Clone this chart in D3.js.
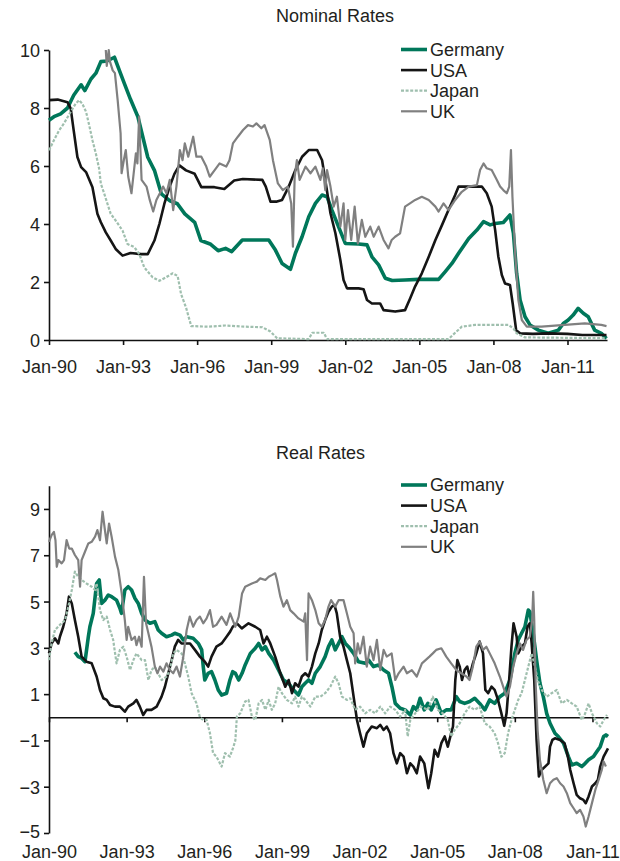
<!DOCTYPE html>
<html>
<head>
<meta charset="utf-8">
<script src="https://d3js.org/d3.v7.min.js"></script>
<style>
  body { margin: 0; background: #fff; }
  svg { display: block; font-family: "Liberation Sans", Arial, Helvetica, sans-serif; }
  .axis path, .axis line { stroke: #111; stroke-width: 1.6; }
  .axis text { fill: #231f20; font-size: 18px; }
  .title { fill: #231f20; font-size: 18px; }
  .legend text { fill: #231f20; font-size: 18px; }
</style>
</head>
<body>
<svg id="chart" width="620" height="861"></svg>
<script>
// x ticks shared by both panels
const tickYears = [1990, 1993, 1996, 1999, 2002, 2005, 2008, 2011];
const tickLabels = ["Jan-90", "Jan-93", "Jan-96", "Jan-99", "Jan-02", "Jan-05", "Jan-08", "Jan-11"];
const countries = ["Germany", "USA", "Japan", "UK"];

// Nominal rates, [year, %]
const nomGermany = [[1990.0,7.58],[1990.2,7.7],[1990.47,7.8],[1990.75,8.0],[1991.0,8.44],[1991.3,8.8],[1991.45,8.6],[1991.7,9.0],[1991.9,9.2],[1992.1,9.6],[1992.35,9.62],[1992.65,9.75],[1992.85,9.3],[1993.05,8.85],[1993.3,8.3],[1993.6,7.7],[1993.8,7.0],[1994.0,6.3],[1994.27,5.85],[1994.55,5.04],[1994.9,4.8],[1995.2,4.7],[1995.5,4.35],[1995.9,4.06],[1996.15,3.43],[1996.55,3.3],[1996.85,3.08],[1997.15,3.16],[1997.4,3.05],[1997.83,3.45],[1998.3,3.45],[1998.9,3.45],[1999.17,3.1],[1999.44,2.64],[1999.78,2.44],[1999.98,2.99],[2000.25,3.56],[2000.52,4.25],[2000.79,4.71],[2001.06,5.0],[2001.26,4.94],[2001.46,4.48],[2001.73,3.9],[2002.0,3.33],[2002.54,3.31],[2002.88,3.28],[2003.08,2.87],[2003.35,2.59],[2003.62,2.13],[2003.9,2.05],[2004.42,2.07],[2004.96,2.09],[2005.78,2.09],[2006.05,2.36],[2006.32,2.64],[2006.59,2.99],[2007.0,3.5],[2007.33,3.79],[2007.6,4.08],[2007.87,3.97],[2008.07,4.02],[2008.4,4.05],[2008.67,4.31],[2008.81,3.68],[2008.94,2.3],[2009.08,1.38],[2009.28,0.8],[2009.48,0.52],[2009.82,0.34],[2010.22,0.23],[2010.63,0.34],[2010.83,0.57],[2011.03,0.69],[2011.23,0.86],[2011.43,1.09],[2011.64,0.92],[2011.84,0.8],[2012.1,0.34],[2012.37,0.23],[2012.58,0.05]];
const nomUSA = [[1990.0,8.27],[1990.35,8.29],[1990.75,8.2],[1990.88,7.98],[1991.0,7.23],[1991.15,6.31],[1991.3,5.96],[1991.5,5.79],[1991.76,5.27],[1991.96,4.35],[1992.1,4.06],[1992.3,3.71],[1992.5,3.43],[1992.7,3.14],[1992.98,2.91],[1993.3,3.0],[1993.73,2.96],[1994.0,2.96],[1994.27,3.43],[1994.47,4.0],[1994.67,4.69],[1994.88,5.27],[1995.08,5.73],[1995.28,6.02],[1995.55,5.85],[1995.9,5.73],[1996.17,5.27],[1996.7,5.27],[1997.1,5.21],[1997.5,5.5],[1997.85,5.55],[1998.64,5.52],[1998.78,5.29],[1998.97,4.77],[1999.2,4.77],[1999.44,4.83],[1999.71,5.29],[1999.98,5.86],[2000.25,6.32],[2000.52,6.55],[2000.86,6.55],[2001.06,6.2],[2001.19,5.52],[2001.4,4.37],[2001.6,3.68],[2001.8,2.76],[2001.93,2.07],[2002.07,1.78],[2002.54,1.78],[2002.74,1.75],[2002.88,1.38],[2003.08,1.26],[2003.41,1.26],[2003.55,1.03],[2004.02,0.98],[2004.42,1.03],[2004.63,1.44],[2004.83,1.85],[2005.1,2.3],[2005.38,2.87],[2005.65,3.45],[2005.92,3.97],[2006.18,4.48],[2006.45,5.0],[2006.59,5.29],[2007.53,5.29],[2007.73,5.06],[2007.93,4.6],[2008.07,3.79],[2008.2,2.87],[2008.34,2.24],[2008.47,1.95],[2008.67,1.9],[2008.78,1.26],[2008.92,0.34],[2009.08,0.23],[2009.6,0.21],[2010.22,0.23],[2011.0,0.21],[2011.6,0.17],[2012.58,0.17]];
const nomJapan = [[1990.0,6.54],[1990.2,6.89],[1990.41,7.23],[1990.6,7.46],[1990.88,7.87],[1991.08,8.15],[1991.22,8.27],[1991.35,8.15],[1991.5,7.87],[1991.63,7.4],[1991.76,6.89],[1991.9,6.42],[1992.03,5.91],[1992.1,5.39],[1992.24,5.04],[1992.37,4.69],[1992.5,4.35],[1992.7,4.12],[1992.98,3.77],[1993.18,3.31],[1993.46,3.2],[1993.66,2.96],[1993.86,2.5],[1994.2,2.16],[1994.47,2.04],[1994.74,2.16],[1995.01,2.3],[1995.21,2.21],[1995.35,1.58],[1995.55,1.12],[1995.76,0.48],[1996.44,0.46],[1997.15,0.5],[1997.9,0.46],[1998.64,0.44],[1998.97,0.29],[1999.24,0.06],[2000.52,0.03],[2000.66,0.25],[2001.13,0.25],[2001.26,0.03],[2006.18,0.03],[2006.45,0.25],[2006.72,0.46],[2007.26,0.52],[2008.6,0.52],[2008.81,0.4],[2008.94,0.23],[2009.28,0.09],[2012.58,0.06]];
const nomUK = [[1992.30,10.0],[1992.34,9.45],[1992.42,10.0],[1992.47,9.6],[1992.58,9.3],[1992.67,9.2],[1992.78,8.28],[1992.9,7.13],[1992.94,5.75],[1993.03,6.2],[1993.11,6.55],[1993.21,5.63],[1993.34,5.06],[1993.43,5.75],[1993.52,6.44],[1993.58,6.09],[1993.65,7.7],[1993.75,5.52],[1993.95,5.29],[1994.08,4.83],[1994.22,4.43],[1994.35,4.83],[1994.49,5.06],[1994.62,5.29],[1994.76,5.06],[1994.89,5.52],[1995.03,4.48],[1995.16,5.29],[1995.3,6.55],[1995.41,6.2],[1995.5,6.78],[1995.64,6.32],[1995.84,7.01],[1995.97,6.32],[1996.17,6.32],[1996.37,5.98],[1996.51,5.63],[1996.71,5.86],[1996.91,6.09],[1997.18,5.98],[1997.31,6.2],[1997.45,6.78],[1997.65,7.01],[1997.86,7.24],[1998.06,7.41],[1998.26,7.36],[1998.4,7.47],[1998.6,7.3],[1998.73,7.41],[1998.94,6.9],[1999.07,6.2],[1999.27,5.4],[1999.47,5.17],[1999.67,5.29],[1999.81,4.71],[1999.88,3.22],[1999.95,5.63],[2000.04,6.2],[2000.15,5.52],[2000.39,5.98],[2000.59,5.75],[2000.79,5.98],[2000.99,5.52],[2001.09,5.92],[2001.19,5.17],[2001.26,5.86],[2001.4,5.29],[2001.53,4.6],[2001.66,4.94],[2001.8,3.91],[2001.93,4.71],[2002.0,3.45],[2002.11,4.48],[2002.24,3.45],[2002.38,4.6],[2002.51,3.33],[2002.67,4.14],[2002.81,3.56],[2003.01,3.91],[2003.15,3.56],[2003.35,3.91],[2003.55,3.45],[2003.75,3.16],[2003.88,3.45],[2004.02,3.56],[2004.22,3.68],[2004.42,4.6],[2004.62,4.71],[2004.83,4.83],[2005.1,4.94],[2005.38,4.83],[2005.65,4.6],[2005.78,4.43],[2005.98,4.71],[2006.18,4.48],[2006.45,4.83],[2006.72,5.11],[2007.0,5.29],[2007.33,5.34],[2007.46,5.86],[2007.6,6.09],[2007.73,5.92],[2007.93,5.86],[2008.14,5.52],[2008.27,5.29],[2008.4,5.17],[2008.54,5.06],[2008.64,5.29],[2008.71,6.55],[2008.77,4.94],[2008.88,2.99],[2009.01,1.38],[2009.15,0.69],[2009.35,0.46],[2009.95,0.46],[2010.89,0.52],[2011.7,0.57],[2012.37,0.52],[2012.58,0.48]];

// Real rates, [year, %]
const realGermany = [[1991.0,2.81],[1991.13,2.62],[1991.26,2.55],[1991.39,2.4],[1991.45,2.9],[1991.52,3.48],[1991.58,3.91],[1991.71,4.49],[1991.84,5.78],[1991.94,5.93],[1992.03,4.92],[1992.16,5.06],[1992.29,5.28],[1992.42,5.21],[1992.61,5.06],[1992.74,4.71],[1992.8,4.49],[1992.93,5.5],[1993.06,5.64],[1993.19,5.5],[1993.32,5.14],[1993.45,4.92],[1993.58,4.49],[1993.71,4.2],[1993.9,4.06],[1994.09,4.13],[1994.22,3.77],[1994.35,3.63],[1994.54,3.48],[1994.74,3.55],[1994.86,3.63],[1995.06,3.55],[1995.19,3.34],[1995.32,3.48],[1995.57,3.41],[1995.77,3.19],[1995.9,2.91],[1995.96,2.19],[1996.02,1.61],[1996.15,1.9],[1996.28,1.97],[1996.41,1.61],[1996.54,1.18],[1996.67,0.96],[1996.86,1.04],[1996.99,1.61],[1997.1,1.97],[1997.2,1.9],[1997.33,1.61],[1997.46,1.9],[1997.58,2.26],[1997.78,2.76],[1997.97,2.98],[1998.1,3.19],[1998.23,2.91],[1998.36,3.05],[1998.49,2.76],[1998.68,2.47],[1998.87,2.04],[1999.06,1.61],[1999.26,1.47],[1999.45,1.18],[1999.64,0.96],[1999.77,1.32],[1999.9,1.47],[2000.03,1.61],[2000.16,1.47],[2000.29,1.9],[2000.48,2.19],[2000.67,2.62],[2000.8,3.05],[2000.93,3.34],[2001.06,2.91],[2001.19,3.19],[2001.32,3.48],[2001.45,3.19],[2001.57,3.05],[2001.77,2.76],[2001.96,2.4],[2002.22,2.33],[2002.35,2.47],[2002.54,2.19],[2002.73,2.26],[2002.93,2.04],[2003.12,1.9],[2003.25,1.32],[2003.38,0.6],[2003.57,0.39],[2003.76,0.32],[2003.96,0.1],[2004.08,0.46],[2004.21,0.32],[2004.34,0.82],[2004.5,0.32],[2004.64,0.6],[2004.77,0.32],[2004.96,0.75],[2005.16,0.17],[2005.35,0.32],[2005.54,0.32],[2005.74,0.89],[2005.87,0.68],[2006.06,0.6],[2006.26,0.68],[2006.45,0.82],[2006.64,0.6],[2006.84,0.32],[2007.03,0.75],[2007.22,0.6],[2007.42,0.89],[2007.61,1.04],[2007.81,1.61],[2008.0,2.76],[2008.13,3.34],[2008.26,3.63],[2008.39,3.91],[2008.52,4.63],[2008.58,4.56],[2008.71,3.63],[2008.84,2.47],[2008.97,1.47],[2009.1,0.89],[2009.23,0.17],[2009.36,-0.26],[2009.55,-0.69],[2009.68,-0.83],[2009.88,-1.12],[2010.07,-1.7],[2010.2,-2.06],[2010.39,-1.99],[2010.59,-2.13],[2010.72,-1.99],[2010.85,-1.84],[2011.04,-1.7],[2011.17,-1.48],[2011.3,-1.27],[2011.43,-0.83],[2011.52,-0.76],[2011.6,-0.83]];
const realUSA = [[1990.0,2.76],[1990.1,3.19],[1990.23,3.41],[1990.36,3.19],[1990.42,3.48],[1990.55,3.91],[1990.68,4.49],[1990.77,5.21],[1990.88,4.92],[1991.0,4.2],[1991.13,3.48],[1991.26,2.62],[1991.45,2.4],[1991.65,2.33],[1991.84,1.76],[1991.97,1.18],[1992.1,0.82],[1992.23,0.75],[1992.36,0.53],[1992.55,0.46],[1992.74,0.46],[1992.93,0.24],[1993.06,0.46],[1993.26,0.6],[1993.38,0.75],[1993.51,0.46],[1993.64,0.1],[1993.77,0.32],[1993.96,0.32],[1994.16,0.46],[1994.35,0.89],[1994.48,1.32],[1994.61,1.9],[1994.74,2.47],[1994.86,3.05],[1994.99,3.34],[1995.12,3.19],[1995.32,3.19],[1995.45,3.19],[1995.64,2.91],[1995.83,2.62],[1996.02,2.4],[1996.15,2.19],[1996.28,2.62],[1996.47,3.05],[1996.67,3.19],[1996.86,3.48],[1997.0,3.7],[1997.1,3.91],[1997.26,4.06],[1997.45,3.84],[1997.71,4.06],[1997.97,3.91],[1998.16,3.77],[1998.29,3.19],[1998.42,3.48],[1998.55,3.19],[1998.74,2.62],[1998.94,1.9],[1999.13,1.32],[1999.26,1.61],[1999.39,1.04],[1999.51,1.47],[1999.64,1.32],[1999.77,1.76],[1999.9,1.9],[2000.03,1.76],[2000.16,2.19],[2000.29,2.76],[2000.42,3.19],[2000.54,3.77],[2000.67,4.2],[2000.8,4.56],[2000.93,4.78],[2001.03,4.85],[2001.12,4.49],[2001.25,3.48],[2001.38,3.05],[2001.51,2.47],[2001.64,1.9],[2001.77,0.89],[2001.9,-0.12],[2002.02,-0.69],[2002.15,-1.27],[2002.28,-0.69],[2002.47,-0.4],[2002.67,-0.47],[2002.8,-0.33],[2002.93,-0.55],[2003.05,-0.4],[2003.18,-0.69],[2003.31,-1.55],[2003.44,-1.99],[2003.57,-1.55],[2003.7,-1.7],[2003.83,-2.42],[2003.96,-1.99],[2004.08,-2.13],[2004.21,-2.42],[2004.34,-1.7],[2004.5,-1.99],[2004.66,-3.06],[2004.77,-2.42],[2004.9,-1.41],[2005.03,-1.7],[2005.16,-1.12],[2005.29,-0.83],[2005.41,-1.27],[2005.54,-0.69],[2005.61,-0.4],[2005.7,1.61],[2005.78,2.47],[2005.87,2.19],[2005.96,1.61],[2006.06,2.04],[2006.16,2.19],[2006.25,1.76],[2006.38,2.33],[2006.51,2.76],[2006.64,3.27],[2006.77,2.76],[2006.86,1.18],[2006.97,1.04],[2007.1,1.32],[2007.22,1.18],[2007.35,0.75],[2007.48,0.17],[2007.59,-0.37],[2007.68,0.17],[2007.78,1.61],[2007.87,3.05],[2007.95,4.06],[2008.07,3.48],[2008.13,2.76],[2008.26,3.05],[2008.39,3.19],[2008.49,3.91],[2008.58,4.06],[2008.65,3.19],[2008.75,1.61],[2008.84,-0.98],[2008.93,-2.56],[2009.04,-2.27],[2009.17,-2.13],[2009.3,-1.99],[2009.36,-1.27],[2009.45,-0.98],[2009.55,-0.91],[2009.75,-0.98],[2009.92,-1.12],[2010.05,-1.7],[2010.14,-2.27],[2010.27,-2.85],[2010.39,-3.35],[2010.52,-3.5],[2010.65,-3.57],[2010.74,-3.71],[2010.85,-3.42],[2010.98,-2.99],[2011.11,-2.85],[2011.21,-2.7],[2011.3,-2.13],[2011.43,-1.7],[2011.6,-1.34]];
const realJapan = [[1990.0,2.47],[1990.1,3.19],[1990.23,3.77],[1990.42,3.99],[1990.62,4.2],[1990.75,4.78],[1990.88,5.5],[1991.0,6.29],[1991.13,6.07],[1991.26,5.93],[1991.45,5.78],[1991.65,5.64],[1991.78,5.5],[1991.84,5.78],[1991.97,4.63],[1992.1,4.2],[1992.23,4.35],[1992.36,3.77],[1992.48,3.34],[1992.61,2.33],[1992.74,2.91],[1992.87,3.05],[1993.0,2.62],[1993.13,2.04],[1993.26,2.47],[1993.38,2.76],[1993.58,2.47],[1993.71,2.47],[1993.84,1.61],[1993.96,2.04],[1994.09,2.19],[1994.22,1.9],[1994.35,1.61],[1994.54,1.76],[1994.67,2.04],[1994.8,2.76],[1994.93,2.91],[1995.12,2.76],[1995.25,2.33],[1995.38,1.76],[1995.51,1.04],[1995.7,0.6],[1995.83,0.0],[1995.96,-0.12],[1996.09,-0.12],[1996.22,-0.69],[1996.34,-1.55],[1996.47,-1.7],[1996.67,-2.13],[1996.8,-1.55],[1996.99,-1.7],[1997.12,-1.3],[1997.2,-1.0],[1997.26,0.03],[1997.39,0.17],[1997.58,0.68],[1997.71,0.75],[1997.84,0.03],[1997.97,-0.12],[1998.1,0.6],[1998.23,0.75],[1998.36,0.32],[1998.49,0.75],[1998.61,0.32],[1998.74,0.6],[1998.87,1.32],[1999.0,1.04],[1999.19,0.75],[1999.39,0.6],[1999.51,0.89],[1999.64,0.46],[1999.77,0.89],[1999.9,0.75],[2000.1,0.46],[2000.29,0.89],[2000.48,0.89],[2000.67,1.04],[2000.87,1.32],[2001.06,1.76],[2001.19,1.47],[2001.32,0.89],[2001.51,0.75],[2001.64,0.82],[2001.83,0.32],[2002.02,0.46],[2002.22,0.17],[2002.41,0.32],[2002.6,0.17],[2002.8,0.46],[2002.99,0.17],[2003.18,0.46],[2003.38,0.32],[2003.57,0.03],[2003.76,0.32],[2003.86,-0.83],[2003.96,-0.12],[2004.15,0.17],[2004.38,0.46],[2004.64,0.32],[2004.83,0.89],[2005.03,0.32],[2005.22,0.17],[2005.41,-0.12],[2005.54,-0.83],[2005.67,-0.55],[2005.87,-0.26],[2006.06,0.17],[2006.25,0.46],[2006.45,0.32],[2006.64,0.46],[2006.84,-0.26],[2007.03,-0.4],[2007.22,-0.69],[2007.35,-1.12],[2007.48,-1.7],[2007.61,-1.55],[2007.74,-0.69],[2007.87,-0.12],[2008.0,0.32],[2008.13,0.75],[2008.26,1.04],[2008.39,1.61],[2008.52,2.19],[2008.65,2.76],[2008.78,2.19],[2008.88,1.61],[2009.04,1.18],[2009.23,0.89],[2009.42,1.04],[2009.62,1.18],[2009.81,0.6],[2010.01,0.75],[2010.2,0.6],[2010.39,0.46],[2010.59,-0.12],[2010.72,0.17],[2010.85,0.6],[2010.98,0.17],[2011.17,-0.26],[2011.3,-0.4],[2011.43,-0.12],[2011.56,0.1]];
const realUK = [[1990.0,7.58],[1990.1,7.87],[1990.19,8.01],[1990.25,7.65],[1990.3,6.5],[1990.36,6.79],[1990.49,6.65],[1990.58,6.79],[1990.68,7.65],[1990.78,7.29],[1990.88,7.29],[1991.0,7.01],[1991.13,6.79],[1991.2,5.64],[1991.26,6.79],[1991.39,7.15],[1991.52,7.51],[1991.65,7.58],[1991.78,7.8],[1991.87,8.09],[1991.97,7.65],[1992.07,8.88],[1992.16,8.09],[1992.23,7.51],[1992.32,8.37],[1992.42,7.8],[1992.55,6.94],[1992.68,6.36],[1992.81,5.35],[1992.93,4.2],[1993.0,3.34],[1993.06,3.91],[1993.19,3.34],[1993.32,3.48],[1993.38,3.12],[1993.48,3.48],[1993.58,3.05],[1993.67,6.07],[1993.75,4.06],[1993.84,3.63],[1993.96,3.05],[1994.09,2.19],[1994.19,1.9],[1994.29,2.19],[1994.42,1.97],[1994.54,2.33],[1994.67,2.04],[1994.8,1.9],[1994.93,2.19],[1995.06,1.76],[1995.19,2.62],[1995.32,3.77],[1995.44,4.35],[1995.57,3.91],[1995.7,4.2],[1995.83,4.35],[1995.96,4.06],[1996.09,4.27],[1996.22,4.63],[1996.34,3.91],[1996.47,3.99],[1996.67,4.35],[1996.86,3.99],[1997.0,4.49],[1997.1,4.2],[1997.2,3.91],[1997.33,4.35],[1997.46,5.35],[1997.58,5.64],[1997.84,5.78],[1998.03,5.86],[1998.16,6.0],[1998.36,5.93],[1998.49,6.07],[1998.61,6.14],[1998.74,6.22],[1998.81,5.93],[1998.94,5.21],[1999.06,4.78],[1999.19,5.06],[1999.32,4.63],[1999.45,4.49],[1999.64,4.27],[1999.84,4.13],[1999.9,4.49],[1999.97,2.47],[2000.03,5.35],[2000.16,5.06],[2000.29,4.63],[2000.42,4.06],[2000.54,3.91],[2000.67,4.2],[2000.8,4.78],[2000.9,5.06],[2001.06,4.78],[2001.19,5.06],[2001.38,5.06],[2001.51,4.49],[2001.64,3.91],[2001.77,3.63],[2001.83,2.33],[2001.93,3.19],[2002.02,2.76],[2002.15,3.48],[2002.28,2.19],[2002.41,3.05],[2002.54,2.47],[2002.67,3.34],[2002.8,2.04],[2002.93,2.91],[2003.05,2.62],[2003.24,2.76],[2003.38,1.61],[2003.51,1.9],[2003.7,2.19],[2003.83,1.9],[2004.02,2.04],[2004.21,1.76],[2004.41,2.33],[2004.55,2.47],[2004.7,2.62],[2004.83,2.76],[2004.96,2.91],[2005.16,2.98],[2005.35,2.62],[2005.54,2.33],[2005.74,2.04],[2005.93,1.9],[2006.13,1.76],[2006.25,1.61],[2006.38,2.19],[2006.51,3.05],[2006.64,3.27],[2006.77,2.91],[2006.9,3.05],[2007.03,2.76],[2007.22,2.33],[2007.42,1.76],[2007.55,1.32],[2007.68,0.89],[2007.81,1.32],[2007.94,2.19],[2008.07,2.76],[2008.2,3.19],[2008.32,2.91],[2008.45,3.34],[2008.58,3.48],[2008.67,4.2],[2008.71,5.42],[2008.75,4.2],[2008.8,1.61],[2008.88,-0.55],[2008.97,-1.84],[2009.1,-2.7],[2009.23,-3.28],[2009.36,-2.85],[2009.49,-2.7],[2009.62,-2.63],[2009.75,-2.85],[2009.88,-2.99],[2010.01,-3.28],[2010.14,-3.71],[2010.27,-3.93],[2010.39,-4.14],[2010.52,-4.0],[2010.65,-4.29],[2010.74,-4.72],[2010.85,-4.29],[2010.98,-3.71],[2011.11,-3.14],[2011.24,-2.7],[2011.36,-2.27],[2011.43,-1.91],[2011.52,-2.13]];

const nomTicks = [0, 2, 4, 6, 8, 10];
const realTicks = [-5, -3, -1, 1, 3, 5, 7, 9];

// line styles per country
const styles = {
    Germany: { color: "#00775a", width: 3.6, dash: null },
    USA:     { color: "#151515", width: 2.6, dash: null },
    Japan:   { color: "#9fbfae", width: 2.2, dash: "3,1.6" },
    UK:      { color: "#808080", width: 2.2, dash: null }
};

const svg = d3.select("#chart");

function drawPanel(opts) {
    const x = d3.scaleLinear().domain(opts.xDomain).range([49, opts.xRight]);
    const y = d3.scaleLinear().domain(opts.yDomain).range(opts.yRange);
    const g = svg.append("g");

    g.append("text")
        .attr("class", "title")
        .attr("x", 276)
        .attr("y", opts.titleY)
        .text(opts.title);

    // y axis
    const yAxis = g.append("g")
        .attr("class", "axis")
        .attr("transform", "translate(49,0)")
        .call(d3.axisLeft(y).tickValues(opts.yTicks).tickSize(5).tickSizeOuter(0).tickPadding(4));
    yAxis.selectAll("text").attr("dy", "0.36em");
    // lowest label sits right above the date labels, lift it a touch
    yAxis.selectAll("text").filter(d => d === opts.yDomain[0] && d < 0).attr("dy", "0.25em");

    // x axis sits on the zero line, labels at the bottom
    const xAxis = g.append("g")
        .attr("class", "axis")
        .attr("transform", `translate(0,${y(0)})`)
        .call(d3.axisBottom(x).tickValues(tickYears).tickSize(5).tickSizeOuter(0)
            .tickFormat((d, i) => tickLabels[i]));
    xAxis.selectAll("text")
        .attr("dy", null)
        .attr("y", opts.labelBaseline - y(0));

    const line = d3.line()
        .x(d => x(d[0]))
        .y(d => y(d[1]));

    opts.series.forEach((data, i) => {
        const s = styles[countries[i]];
        g.append("path")
            .datum(data)
            .attr("fill", "none")
            .attr("stroke", s.color)
            .attr("stroke-width", s.width)
            .attr("stroke-dasharray", s.dash)
            .attr("stroke-linejoin", "round")
            .attr("d", line);
    });

    // legend
    const legend = g.append("g").attr("class", "legend");
    countries.forEach((c, i) => {
        const s = styles[c];
        const ly = opts.legendY + i * 20.6;
        legend.append("line")
            .attr("x1", 401).attr("x2", 427)
            .attr("y1", ly).attr("y2", ly)
            .attr("stroke", s.color)
            .attr("stroke-width", s.width)
            .attr("stroke-dasharray", s.dash);
        legend.append("text")
            .attr("x", 430)
            .attr("y", ly)
            .attr("dy", "0.36em")
            .text(c);
    });
}

drawPanel({
    title: "Nominal Rates",
    titleY: 22,
    xDomain: [1990, 2012.6],
    xRight: 607,
    yDomain: [0, 10],
    yRange: [340, 50],
    yTicks: nomTicks,
    labelBaseline: 373,
    legendY: 49.5,
    series: [nomGermany, nomUSA, nomJapan, nomUK]
});

drawPanel({
    title: "Real Rates",
    titleY: 459,
    xDomain: [1990, 2011.6],
    xRight: 608,
    yDomain: [-5, 10],
    yRange: [833, 485.8],
    yTicks: realTicks,
    labelBaseline: 858,
    legendY: 485,
    series: [realGermany, realUSA, realJapan, realUK]
});
</script>
</body>
</html>
